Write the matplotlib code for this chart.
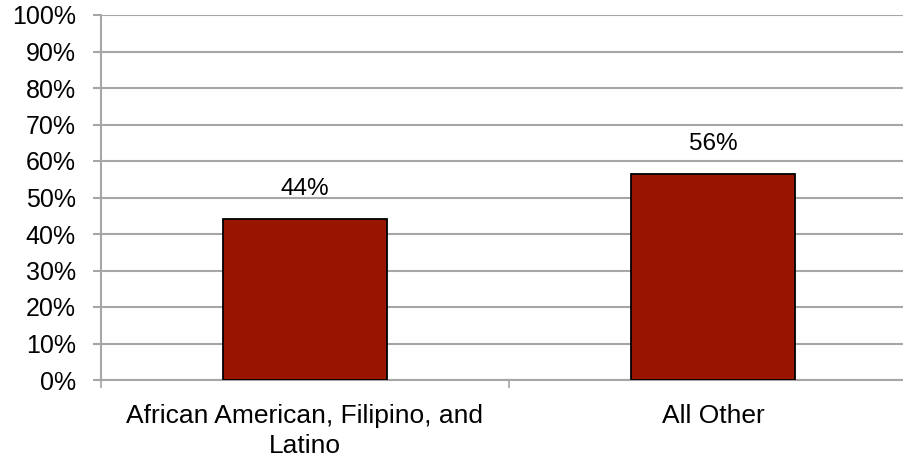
import matplotlib
matplotlib.use("Agg")
import matplotlib.pyplot as plt
from matplotlib.ticker import FixedLocator, FuncFormatter

plt.rcParams['font.family'] = ['Liberation Sans', 'DejaVu Sans']

categories = ["African American, Filipino, and\nLatino", "All Other"]
values = [44.0, 56.4]
yticks = list(range(0, 101, 10))

fig = plt.figure(figsize=(9.04, 4.59), dpi=100)
ax = fig.add_axes([101/904, 79/459, 816/904, 365/459])

x = list(range(len(categories)))
ax.bar(x, values, width=0.4, color="#981500", edgecolor="black", linewidth=1.3, zorder=3)
for xi, v in zip(x, values):
    ax.annotate(f"{round(v)}%", (xi, v), xytext=(0, 22), textcoords="offset points",
                ha="center", va="center", fontsize=17.5, color="black")

ax.set_xlim(-0.5, 1.5)
ax.set_ylim(0, 100)
ax.set_yticks(yticks)
ax.yaxis.set_major_formatter(FuncFormatter(lambda v, p: f"{int(v)}%"))
ax.grid(axis="y", color="#a6a6a6", linewidth=1.5, zorder=0)
ax.set_axisbelow(True)

ax.xaxis.set_major_locator(FixedLocator([-0.5, 0.5, 1.5]))
ax.xaxis.set_major_formatter(FuncFormatter(lambda v, p: ""))
ax.xaxis.set_minor_locator(FixedLocator(x))
ax.set_xticklabels(categories, minor=True, linespacing=1.35)
ax.tick_params(axis="x", which="minor", length=0, labelsize=19, pad=17)
ax.tick_params(axis="x", which="major", length=6, color="#a6a6a6", width=1.2)
ax.tick_params(axis="y", length=5.5, color="#a6a6a6", width=1.5, labelsize=18, pad=12.5)

for s in ["top", "right"]:
    ax.spines[s].set_visible(False)
for s in ["left", "bottom"]:
    ax.spines[s].set_color("#a6a6a6")
    ax.spines[s].set_linewidth(1.5)

fig.savefig("out.png", dpi=100)
